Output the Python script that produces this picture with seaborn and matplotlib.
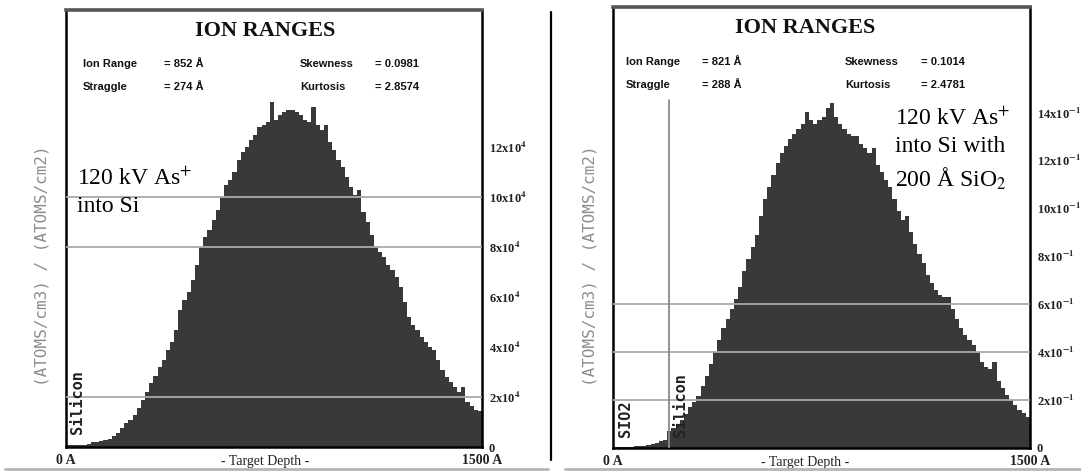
import numpy as np
import pandas as pd
import seaborn as sns
import matplotlib.pyplot as plt
from matplotlib.lines import Line2D

# Depth histograms of implanted As, 100 bins over 0-1500 A
depth_max = 1500
n_bins = 100

# 120 kV As+ into bare Si, bin heights in units of 1e4 (atoms/cm3)/(atoms/cm2)
si_counts = [
    0.08, 0.08, 0.08, 0.10, 0.10, 0.12, 0.20, 0.22, 0.25, 0.30,
    0.33, 0.45, 0.56, 0.75, 0.96, 1.10, 1.28, 1.55, 1.88, 2.20,
    2.56, 2.85, 3.20, 3.50, 3.88, 4.20, 4.70, 5.50, 5.90, 6.20,
    6.70, 7.30, 8.00, 8.40, 8.70, 9.10, 9.50, 10.00, 10.50, 10.70,
    11.00, 11.50, 11.80, 12.00, 12.30, 12.50, 12.80, 12.90, 13.00, 13.80,
    13.10, 13.30, 13.40, 13.50, 13.50, 13.40, 13.30, 13.10, 13.00, 13.60,
    12.90, 12.70, 12.90, 12.20, 11.90, 11.50, 11.20, 10.80, 10.40, 10.10,
    10.30, 9.40, 9.00, 8.50, 8.00, 7.80, 7.60, 7.30, 7.10, 6.80,
    6.40, 5.80, 5.20, 4.90, 4.70, 4.40, 4.20, 4.00, 3.90, 3.50,
    3.10, 2.80, 2.60, 2.40, 2.20, 2.40, 1.80, 1.65, 1.50, 1.45,
]

# 120 kV As+ into Si through 200 A SiO2, bin heights in units of 1e-1
oxide_counts = [
    0.005, 0.005, 0.005, 0.006, 0.006, 0.008, 0.010, 0.010, 0.012, 0.017,
    0.020, 0.030, 0.035, 0.072, 0.082, 0.095, 0.115, 0.140, 0.170, 0.190,
    0.215, 0.260, 0.300, 0.350, 0.400, 0.450, 0.500, 0.540, 0.580, 0.620,
    0.670, 0.740, 0.790, 0.840, 0.890, 0.970, 1.040, 1.090, 1.140, 1.190,
    1.230, 1.260, 1.290, 1.310, 1.330, 1.350, 1.400, 1.370, 1.350, 1.370,
    1.380, 1.420, 1.440, 1.380, 1.350, 1.330, 1.310, 1.300, 1.300, 1.270,
    1.250, 1.230, 1.250, 1.180, 1.150, 1.120, 1.090, 1.040, 0.990, 0.950,
    0.970, 0.900, 0.850, 0.810, 0.770, 0.720, 0.690, 0.660, 0.640, 0.630,
    0.630, 0.580, 0.540, 0.500, 0.470, 0.450, 0.430, 0.400, 0.360, 0.340,
    0.330, 0.360, 0.280, 0.250, 0.220, 0.200, 0.180, 0.160, 0.145, 0.130,
]

si_ticks = [0, 2, 4, 6, 8, 10, 12]
si_tick_labels = ["0", r"2x10$^{\mathbf{4}}$", r"4x10$^{\mathbf{4}}$", r"6x10$^{\mathbf{4}}$",
                  r"8x10$^{\mathbf{4}}$", r"10x10$^{\mathbf{4}}$", r"12x10$^{\mathbf{4}}$"]
si_grid = [2, 8, 10]

ox_ticks = [0, 0.2, 0.4, 0.6, 0.8, 1.0, 1.2, 1.4]
ox_tick_labels = ["0", r"2x10$^{\mathbf{-1}}$", r"4x10$^{\mathbf{-1}}$", r"6x10$^{\mathbf{-1}}$",
                  r"8x10$^{\mathbf{-1}}$", r"10x10$^{\mathbf{-1}}$", r"12x10$^{\mathbf{-1}}$",
                  r"14x10$^{\mathbf{-1}}$"]
ox_grid = [0.2, 0.4, 0.6]

si_stats = [("Ion Range", "= 852 Å"), ("Straggle", "= 274 Å")]
si_moments = [("Skewness", "= 0.0981"), ("Kurtosis", "= 2.8574")]
ox_stats = [("Ion Range", "= 821 Å"), ("Straggle", "= 288 Å")]
ox_moments = [("Skewness", "= 0.1014"), ("Kurtosis", "= 2.4781")]

oxide_thickness = 200

sns.set_theme(style="white")
plt.rcParams["font.family"] = ["Liberation Serif", "DejaVu Serif"]
plt.rcParams["mathtext.fontset"] = "stix"

W, H = 1081, 475
fig = plt.figure(figsize=(W / 100, H / 100), dpi=100)
fig.patch.set_facecolor("white")

bin_width = depth_max / n_bins
centers = bin_width * (np.arange(n_bins) + 0.5)

fill = "#393939"
grid_col = "#a9a9a9"
serif = ["Liberation Serif", "DejaVu Serif"]
sans = ["Liberation Sans", "DejaVu Sans"]
mono = ["DejaVu Sans Mono", "Liberation Mono"]


def panel(rect, counts, ymax, ticks, labels, grid, stats, moments, title_x, stat_x):
    ax = fig.add_axes(rect)
    df = pd.DataFrame({"depth": centers, "count": counts})
    sns.histplot(data=df, x="depth", weights="count", bins=n_bins, binrange=(0, depth_max),
                 element="step", fill=True, color=fill, alpha=1, linewidth=0, ax=ax, zorder=2)
    ax.set_xlim(0, depth_max)
    ax.set_ylim(0, ymax)
    ax.set_ylabel("")
    ax.set_xlabel("")
    for g in grid:
        ax.axhline(g, color=grid_col, lw=1.3, zorder=3)
    for side in ("left", "right", "bottom"):
        ax.spines[side].set_color("black")
        ax.spines[side].set_linewidth(1.8)
    ax.spines["top"].set_color("#555555")
    ax.spines["top"].set_linewidth(2.6)

    ax.yaxis.tick_right()
    ax.set_yticks(ticks)
    ax.set_yticklabels(labels, fontfamily=serif, fontsize=9, fontweight="bold", color="#222222")
    ax.tick_params(axis="y", length=0, pad=5)
    ax.set_xticks([0, depth_max])
    ax.set_xticklabels(["0 A", "1500 A"], fontfamily=serif, fontsize=10, fontweight="bold",
                       color="#222222")
    ax.tick_params(axis="x", length=0, pad=5)
    ax.text(title_x, -0.034, "- Target Depth -", transform=ax.transAxes, ha="center", va="center",
            fontfamily=serif, fontsize=10, color="#222222")

    ax.text(title_x, 0.952, "ION RANGES", transform=ax.transAxes, ha="center", va="center",
            fontfamily=serif, fontsize=16, fontweight="bold", color="#111111")
    for row, ((n1, v1), (n2, v2)) in enumerate(zip(stats, moments)):
        y = 0.876 - row * 0.052
        for x, s in zip(stat_x, (n1, v1, n2, v2)):
            ax.text(x, y, s, transform=ax.transAxes, ha="left", va="center",
                    fontfamily=sans, fontsize=8, fontweight="bold", color="#111111")
    return ax


ax1 = panel([66 / W, (H - 447) / H, 416 / W, 437 / H], si_counts, 17.48,
            si_ticks, si_tick_labels, si_grid, si_stats, si_moments,
            0.478, (0.041, 0.236, 0.562, 0.743))
ax2 = panel([613 / W, (H - 448) / H, 417 / W, 441 / H], oxide_counts, 1.84,
            ox_ticks, ox_tick_labels, ox_grid, ox_stats, ox_moments,
            0.46, (0.031, 0.213, 0.556, 0.739))

# SiO2 / Si interface
ax2.axvline(oxide_thickness, ymin=0, ymax=0.79, color="#8a8a8a", lw=1.3, zorder=3)

# layer names
layer_kw = dict(rotation=90, ha="center", va="bottom", fontfamily=mono, fontsize=11,
                fontweight="bold", color="#222222", zorder=4)
ax1.text(0.028, 0.03, "Silicon", transform=ax1.transAxes, **layer_kw)
ax2.text(0.03, 0.025, "SIO2", transform=ax2.transAxes, **layer_kw)
ax2.text(0.162, 0.025, "Silicon", transform=ax2.transAxes, **layer_kw)

# implant conditions
ax1.text(0.026, 0.64, "120 kV As$^{+}$\ninto Si", transform=ax1.transAxes, ha="left", va="top",
         fontfamily=serif, fontsize=17, color="black", linespacing=1.4, zorder=5)
ax2.text(0.676, 0.772, "120 kV As$^{+}$\ninto Si with\n200 Å SiO$_{2}$", transform=ax2.transAxes,
         ha="left", va="top", fontfamily=serif, fontsize=17, color="black", linespacing=1.4,
         zorder=5)

# y-axis titles on the left of each panel
for xc in (42, 590):
    fig.text(xc / W, 1 - 266 / H, "(ATOMS/cm3) / (ATOMS/cm2)", rotation=90, ha="center",
             va="center", fontfamily=mono, fontsize=11.5, color="#8c8c8c")

# panel separator and bottom rules
fig.add_artist(Line2D([551 / W, 551 / W], [1 - 460 / H, 1 - 12 / H], color="black", lw=1.6))
fig.add_artist(Line2D([5 / W, 548 / W], [1 - 469 / H, 1 - 469 / H], color="#b5b5b5", lw=2))
fig.add_artist(Line2D([565 / W, 1.0], [1 - 469 / H, 1 - 469 / H], color="#b5b5b5", lw=2))

fig.savefig("out.png", dpi=100, facecolor="white")
